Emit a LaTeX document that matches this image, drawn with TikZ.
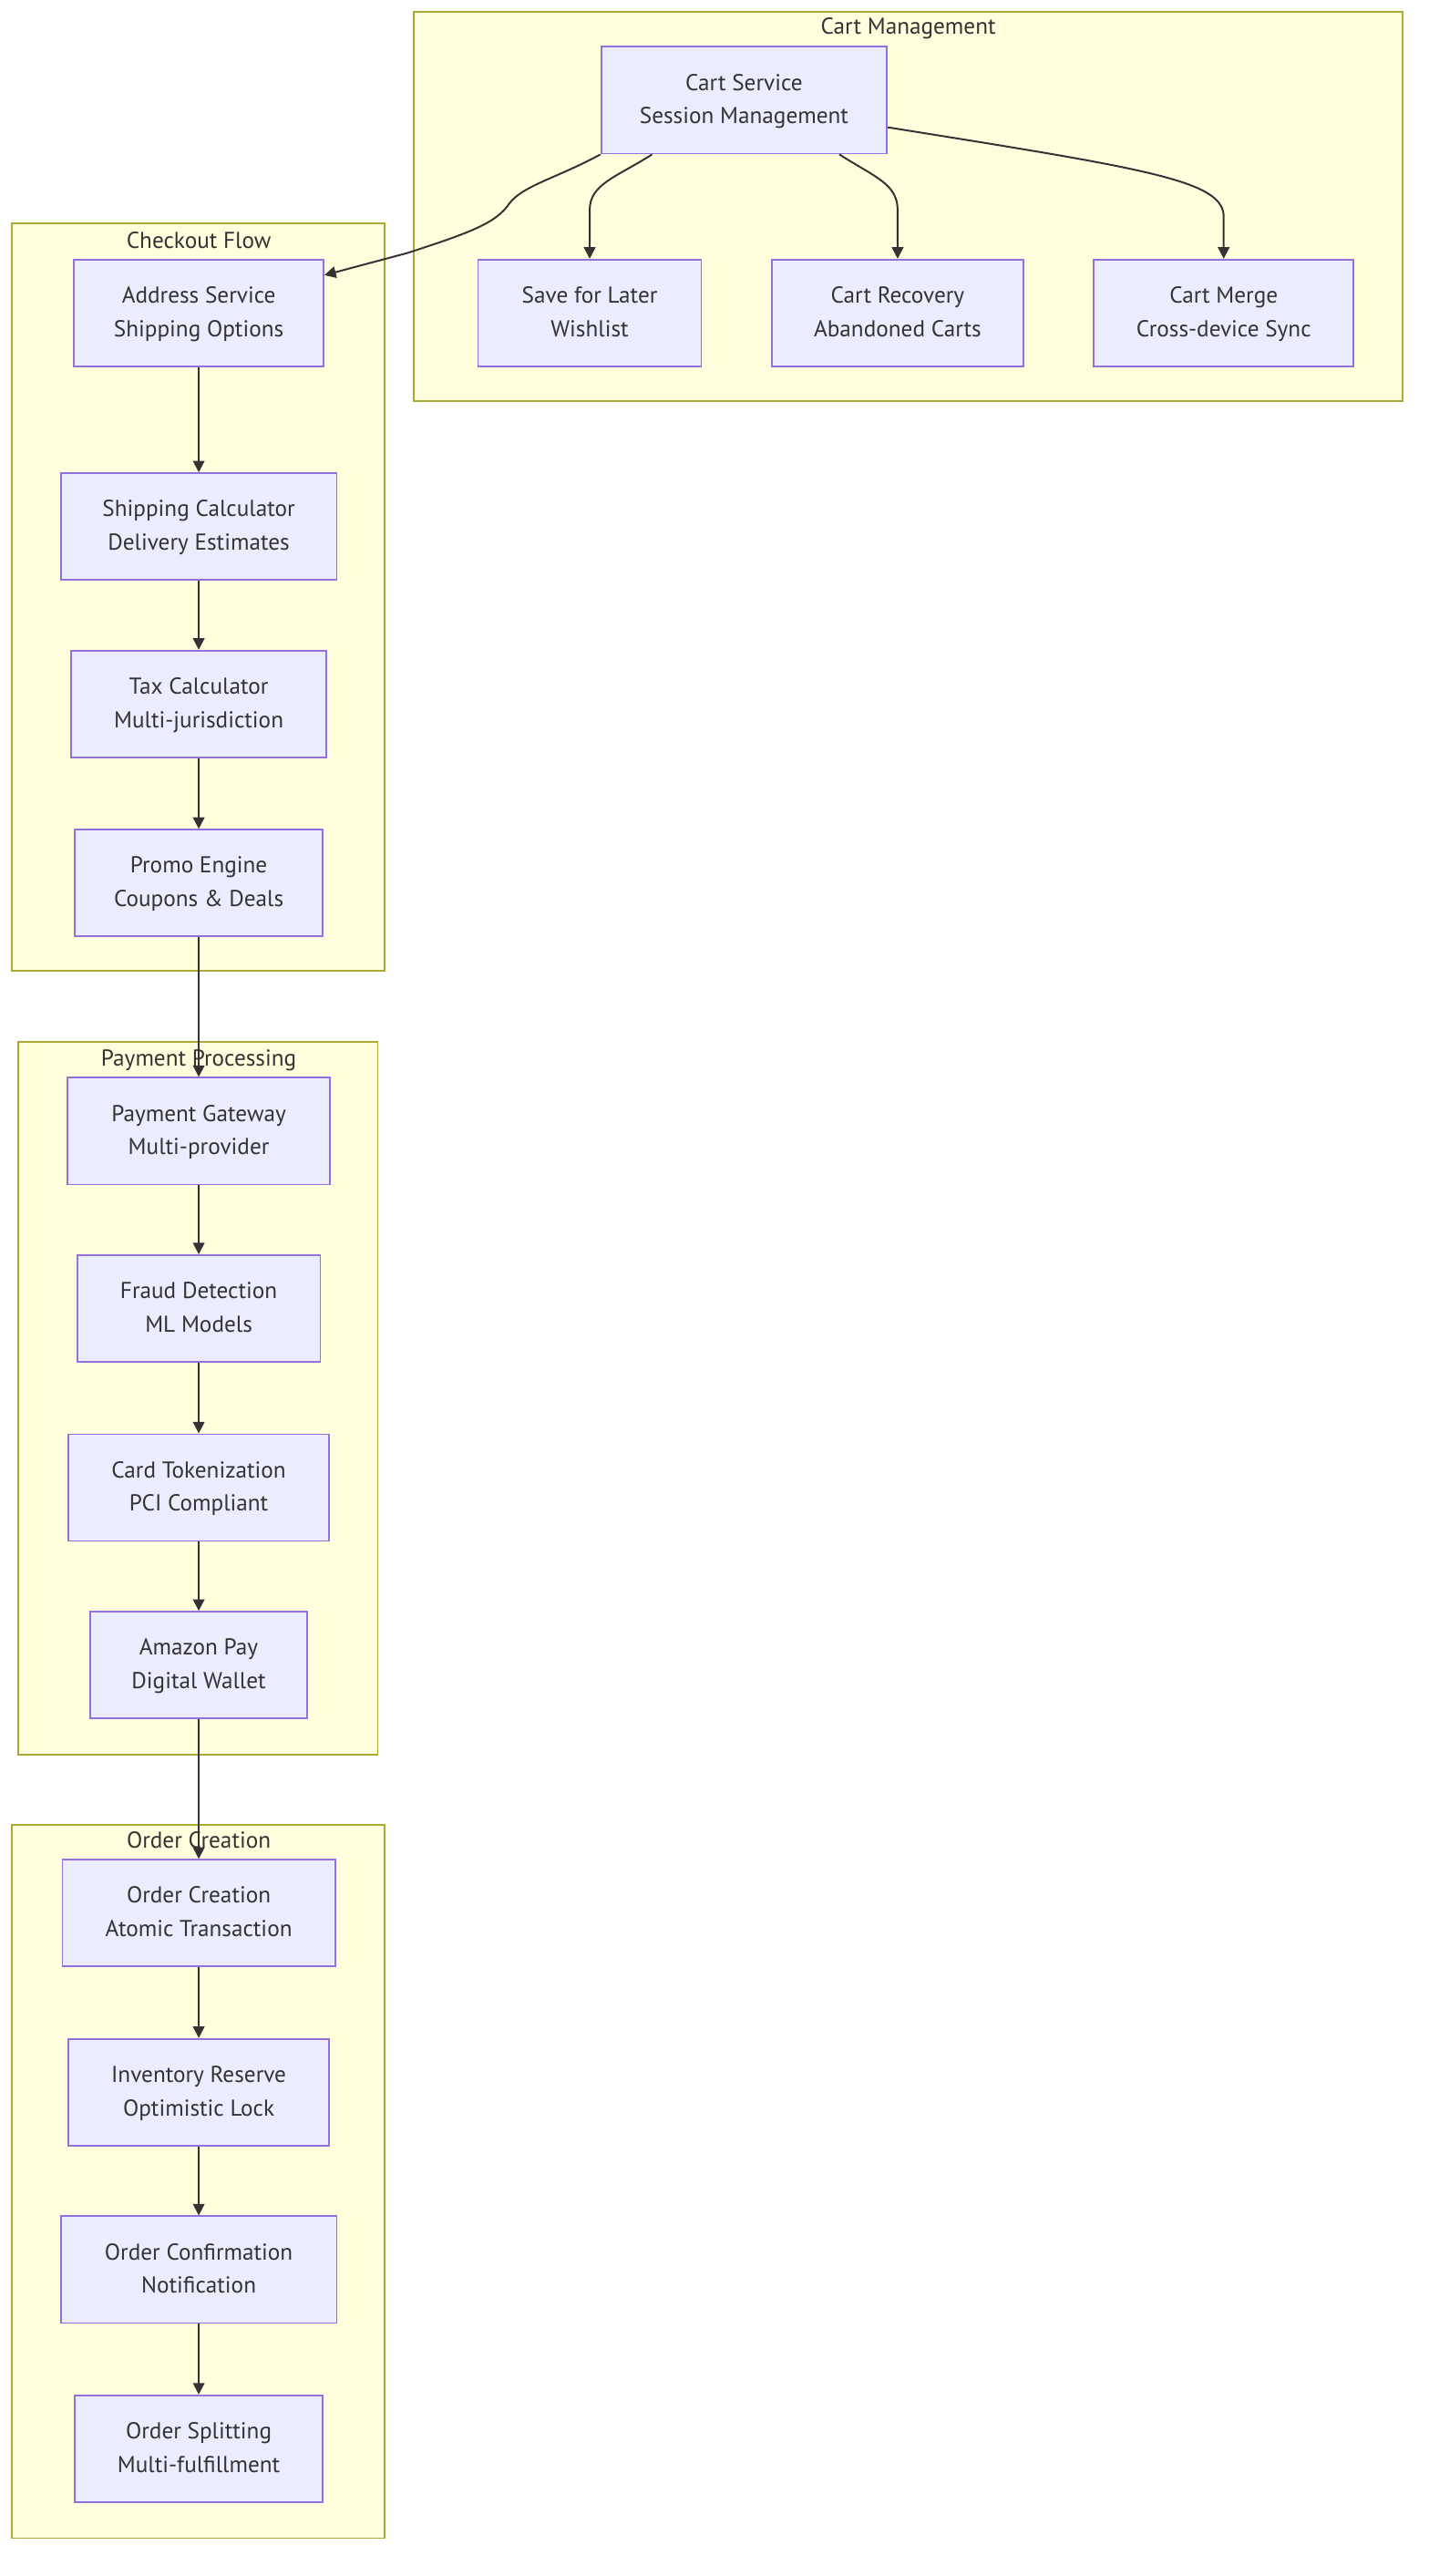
\documentclass[tikz,border=0pt]{standalone}
\usepackage{fontspec}
\setmainfont{PT Sans}
\usetikzlibrary{arrows.meta}
\definecolor{clfill}{HTML}{FFFFDE}
\definecolor{cldraw}{HTML}{AAAA33}
\definecolor{ndfill}{HTML}{ECECFF}
\definecolor{nddraw}{HTML}{9370DB}
\definecolor{edgec}{HTML}{333333}
\newcommand\bx[6]{%
  \node[box,minimum width=#4pt] (#1) at (#2,#3) {};
  \node[txt] at (#2,#3-6) {#5};
  \node[txt] at (#2,#3+14.3) {#6};}
\begin{document}
\begin{tikzpicture}[x=1pt,y=-1pt,
 cluster/.style={fill=clfill,draw=cldraw,line width=1pt},
 ctitle/.style={text=edgec,font=\fontsize{14}{16}\selectfont,inner sep=0,anchor=base},
 box/.style={fill=ndfill,draw=nddraw,line width=1pt,minimum height=65pt,inner sep=0},
 txt/.style={text=edgec,font=\fontsize{14}{16}\selectfont,inner sep=0,anchor=base},
 arr/.style={draw=edgec,line width=1.1pt,-{Triangle[length=7pt,width=7pt]}}]
\useasboundingbox (0,0) rectangle (870,1568);
\fill[white] (0,0) rectangle (870,1568);
% clusters
\draw[cluster] (252,7) rectangle (854,244);
\node[ctitle] (tcart) at (553,21) {Cart Management};
\draw[cluster] (7,136) rectangle (234,591);
\node[ctitle] (tcheck) at (121,151) {Checkout Flow};
\draw[cluster] (11,634) rectangle (230,1068);
\node[ctitle] (tpay) at (121,649) {Payment Processing};
\draw[cluster] (7,1111) rectangle (234,1545);
\node[ctitle] (tord) at (121,1125) {Order Creation};
% nodes
\bx{cart}{453}{61}{174}{Cart Service}{Session Management}
\bx{save}{359}{190.5}{136}{Save for Later}{Wishlist}
\bx{recov}{546.5}{190.5}{153}{Cart Recovery}{Abandoned Carts}
\bx{merge}{745}{190.5}{158}{Cart Merge}{Cross-device Sync}
\bx{addr}{121}{190.5}{152}{Address Service}{Shipping Options}
\bx{ship}{121}{320.5}{168}{Shipping Calculator}{Delivery Estimates}
\bx{tax}{121}{428.5}{155}{Tax Calculator}{Multi-jurisdiction}
\bx{promo}{121}{537.5}{151}{Promo Engine}{Coupons \& Deals}
\bx{gate}{121}{688.5}{160}{Payment Gateway}{Multi-provider}
\bx{fraud}{121}{796.5}{148}{Fraud Detection}{ML Models}
\bx{token}{121}{905.5}{159}{Card Tokenization}{PCI Compliant}
\bx{amazon}{121}{1013.5}{132}{Amazon Pay}{Digital Wallet}
\bx{ocreate}{121}{1164.5}{166}{Order Creation}{Atomic Transaction}
\bx{inv}{121}{1273.5}{159}{Inventory Reserve}{Optimistic Lock}
\bx{confirm}{121}{1381.5}{168}{Order Confirmation}{Notification}
\bx{split}{121}{1490.5}{151}{Order Splitting}{Multi-fulfillment}
% edges
\draw[arr] (cart.south west) .. controls (340,108) and (318,113) .. (310,124)
  .. controls (302,136) and (285,142) .. (248,154) -- ([yshift=23pt]addr.east);
\draw[arr] ([xshift=-56pt]cart.south) .. controls (375,108) and (359,112) .. (359,128) -- (save.north);
\draw[arr] ([xshift=58pt]cart.south) .. controls (533,108) and (546.5,112) .. (546.5,128) -- (recov.north);
\draw[arr] ([yshift=-16.5pt]cart.east) .. controls (700,103) and (745,110) .. (745,132) -- (merge.north);
\draw[arr] (addr) -- (ship);
\draw[arr] (ship) -- (tax);
\draw[arr] (tax) -- (promo);
\draw[arr] (promo) -- (gate);
\draw[arr] (gate) -- (fraud);
\draw[arr] (fraud) -- (token);
\draw[arr] (token) -- (amazon);
\draw[arr] (amazon) -- (ocreate);
\draw[arr] (ocreate) -- (inv);
\draw[arr] (inv) -- (confirm);
\draw[arr] (confirm) -- (split);
\end{tikzpicture}
\end{document}
